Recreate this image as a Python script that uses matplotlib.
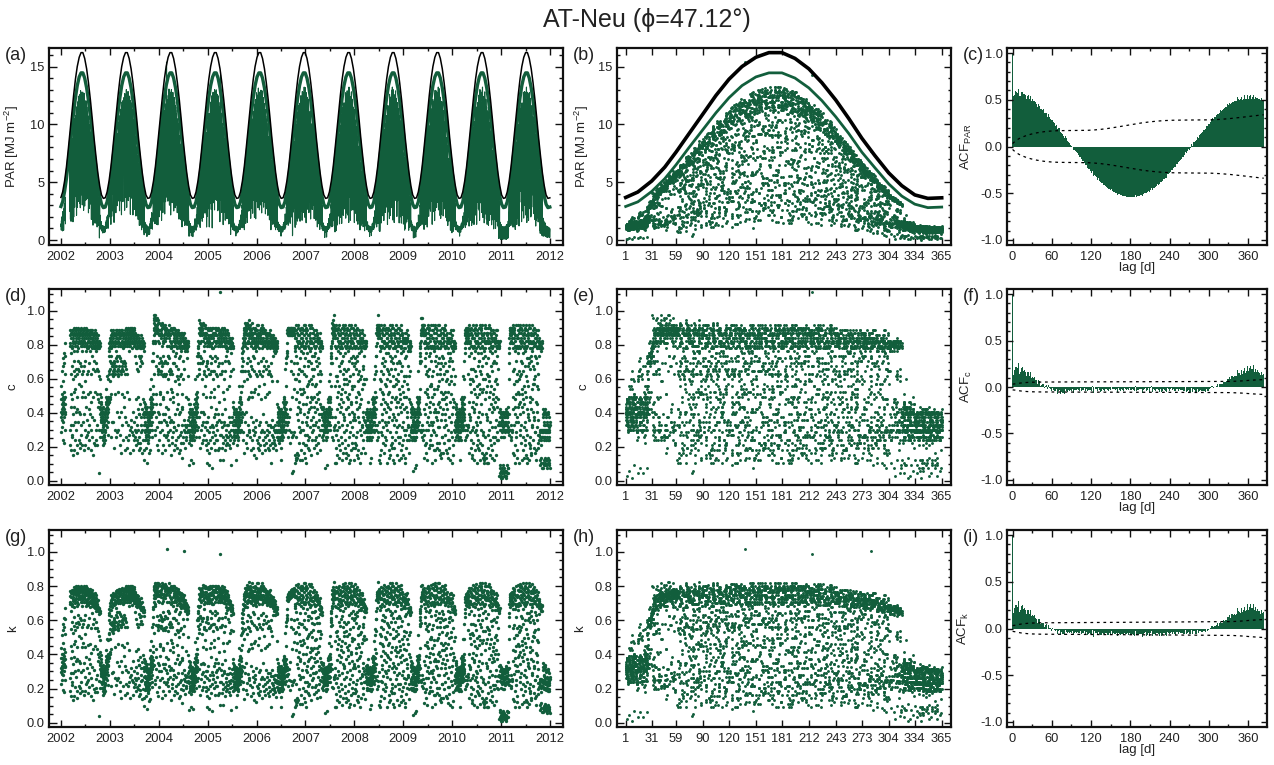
import sys
import numpy as np
import matplotlib
matplotlib.use("Agg")
import matplotlib.pyplot as plt
from matplotlib.ticker import MultipleLocator, FixedLocator, NullLocator

# ---------------- data ----------------
# clear-sky curves (top-of-atmosphere = black, clear-sky = green), MJ m-2, by day of year
CURVE_DOY = [1, 15, 31, 46, 59, 74, 90, 105, 120, 135, 151, 166, 181, 196, 212, 227,
             243, 258, 273, 288, 304, 319, 334, 349, 365]
PAR_TOA = [3.68, 4.15, 5.1, 6.3, 7.6, 9.2, 10.9, 12.5, 13.9, 15.0, 15.8, 16.2, 16.2, 15.7,
           14.8, 13.6, 12.1, 10.5, 8.8, 7.3, 5.8, 4.7, 3.9, 3.6, 3.65]
PAR_CLEAR = [2.9, 3.3, 4.2, 5.3, 6.5, 8.0, 9.55, 11.0, 12.3, 13.35, 14.1, 14.45, 14.45, 14.0,
             13.15, 12.05, 10.65, 9.2, 7.6, 6.25, 4.85, 3.8, 3.1, 2.8, 2.85]

# daily clearness c, one string per month; value = index in ALPH * 0.015 ('.' = missing)
ALPH = "0123456789abcdefghijklmnopqrstuvwxyzABCDEFGHIJKLMNOPQRSTUVWXYZ+*#@%&!~^<>?=$:;|"
STEP = 0.015
MONTH_LEN = [31, 28, 31, 30, 31, 30, 31, 31, 30, 31, 30, 31]

c_2002 = ["rwpjB uoHsl ywqgD tMnrv Jxfpu KswOz r", "NuGqS xk... ..... ..... ..... ...",
          "..... ..... ....S VkRXe OtWGc UmyiQ W", "XRhJw TVqEa XUSmH cLWYz PtRgX VAnSF",
          "WTkIr XYUbG sRVPx eWXLQ nIUSY gCVWr T", "UHfXV SqKdW YTBmR XJiUS xGVWe PRzXT",
          "VWnHS cXUJq TYRxe LVSWk DUXhP RYtWQ i", "SXVGo WRjUT yHQXd sVWKm TRgXU zPSqW V",
          "RUkGX WvcTQ NSXhU WpRVI aTUxS WQfLR", "TVoHR XeSUz QWkKT VgPRS yUmQe TRIwV S",
          "QHRtS vSFRk TQ3RS qyhsE tovnp krxuo", "pkrhn qjsme olrgp tkoif nqhmr pjkgo s"]
c_2003 = ["qvsmx osAru lwtpF wqvnE usiwr xHvNQ P", "SGvRT LwIUx DKVSh QyUXN JnTVW GRK",
          "XHFSJ UnGVL RIdWH KTSyG VRJkX UPhSW M", "VJrXH LUSjN WIzTR GFkVX pJSWN UeHRV",
          "WMiSU HXrRL VGbTW JyXSI mQVKg WRHUx S", "RLWtS VJcXU GpTRK WhSVI nYUGd RWzTS",
          "XVUmS YWgTR XUwPS WiVYT kXRUb SWVoY X", "WUlXV SjYTW QrUXc VSWiT YnRXU gSWkV T",
          "RVhNS UjeTQ KwpSV ImRgU QxsTH kfRVq", "SNqTR hcUQM udRSJ fVmTN pjQLb sRUkK S",
          "RQgSR wSqTP RcSr8 pvmtj rgkqn uisdm", "mhqkg tp7ri lmfqj kigon rkbpm hjqoc k"]
c_2004 = ["tpwnr AmqvE suxpk Lrnwt qhyuB rLSTO @", "#XrV* Y+GkW @ZTiS #ypXY *JuZ# NeW",
          "YXlZ+ TGcWH *rIVn XqSgK +MuXj zVHyW L", "XZnUG HbYKR +kVJx ZFeTw SqNoV KYGiU",
          "YWcLX FqZTh XGnWt UY:mV KiRzK sWEgN N", "XVjMW RZpUH eXnIw VkGTA aQXoS HYhRz",
          "WRfXG PnTYx vWjKU cRVKl YlSXq DWeTN V", "UXkRJ OgWTs yVFdU QmWEI uSXhM WbTqR C",
          "VSiQF NrUcT GjRVf PWsmU y9QtR WhTLE", "RUfVS oQkTI |WdRS mUjPR hTxSQ gRlMT j",
          "PSRmT QwRTk SoFRj fmu6r kpisg nhkuq", "khnqe rm8ok hpjsl gqni7 krmhp oljgq m"]
c_2005 = ["uoqlw rEtkn yspvh mwqFr pkuxN tzONK Q", "RNlTG WIpSY *hVXK +SdWN YrXMk ZTY",
          "WYmZE KfXVr +nLWy TgHRU iZGPq YSlBV W", "VZgJx UnYFe W7kTK RLncY VpUSI XfGRj",
          "XTb6U GVlNx SgYHU tKXRd VzmQM Yh5SV E", "UWjYH lQxfT WHpVA cYRLq WNiXs VmGgT",
          "YSkVF gXTMn UBcXR JqYvd WSoTK UiRV8 G", "VXW=T iWUGn XSdYH lRVKq zhTWf 8UXmE Y",
          "TUnRw gLVsX ScHWi TReUN QkXfA TmPWh", "SVhQT mLWjB eUTpS KgQFi RnTUd 6OSkH R",
          "QTpRS ShRnU QfIRk tmvjq siogr mkqhn", "ojqmh kr8np mhsqj eokmr ilqgn hpjkm o"]
c_2006 = ["prmvk tBwon sqxjq Hnuqk ozvpr HBOJM Q", "SLgUH PRjWT TDqYX bVSH+ WnUYR XfZ",
          "WYXZr KSiEV +QdwY SZHmM TYjVx *WkGU Z", "XVFhY SLzcW UXpRJ +WIgS TVxnd QWNUk",
          "YWSHi TMUza WRjXQ AYlS9 UGXoT PZVgR F", "VXRfy TWdUK ZSHmV QhWBc TXVnG UeWSL",
          "XYUjw SXbTQ FZWkR HgUMq YSWeC TXRjJ W", "TWSxh XRcUL WVnTf ISQiW URkyJ VTdmG S",
          "RVTgz WjSHc XRGmV UQeSl F7TRK VDfUo", "SURiT QdVlS NThRf UPkSg RQmUe TOjSc R",
          "QSRPk RSuhT QjDRn rkpgt mqhor kfsnj", "nkrhp jqmgs okd8r lhpjq mgkri nqhko l"]
c_2007 = ["ovrkt qxmpu wsnjv rIpuk vqBsn MKNOP S", "pmWXq YWnXV hWYXk WXVpY WsXYV XfW",
          "XWVYL jWYHV WXhYW Vx34W YXGWi XYKVX W", "jAVER UPa7X QZU89 EwXhN RqbKW Tz9oY",
          "VGtaS ZIQlv DfVTX MsS8A rjWRP YcyHU k", "yWSU8 HYnAf ORXku TGbzV QZJqe MXi9R",
          "QZnuS Fe7WY UmxBi XOpTR gJdVL CrZQL c", "sDVhT WvPlU SYZaK xEQot TCjNY SgwIW m",
          "WSpFU kxNUR XdtIm TBgVQ OrvTe LnXRC", "hVTWs JUbyM lSUwf TGozQ TUKiq DScuW H",
          "PRkSS qRtGT ksRpQ mhtqk oitgs kmrpj", "mqjnk ro5lp kqjnh rmgpk ls6ok jrmhq n"]
c_2008 = ["snwqk vpmxr Dtnsq wkpvG rmxqB sNKOM R", "QTKhS WpY+U gXW*Z VXkY@ WZlXV mYX",
          "V7pBR UdXFM i7QZU DsXkF xaRWg TPnzY J", "VSeuZ Bl9QV THcrO XwhSW KtyRA 8fYUL",
          "mQZSG qWvbN jYUEo XCpIT RVdzg OZk9Q E", "sbWHS UxmCY RXTaI teVwP Qq7LZ XhyDR",
          "VnFjT W8UvM cuSYZ BrQKl fATYo SGdiW N", "VRpJU Bq8XQ ZKfoM UdxXR hIeWv LaTYN s",
          "jVSTD 9QpGc zVTOn XtHyS WR7uE kUiFU", "bwQPT SmAlW UUXJr CgTdI RpCoV TEjNQ b",
          "RQjSR TnSrE RkTmq gsojr lphvm qkrjo", "lpjqg mrkhp 7sjnl qhmro kgpjl 9qmhk p"]
c_2009 = ["qwmsv krpun xsqjE tnrwk mpJsv Gqzxs N", "RNWkH SgYXZ mVWYU XZh@W jYXVZ nWY",
          "8VRU7 aXPEA jQZHu UcDqX RWiKz oTGfY w", "lMVyS ZbJsQ VTXhC nLSev WrOgR YBmIU",
          "WSkEU u7yYR XHtnO TzcVQ Gp9ZD jsXRN a", "LVTWv eUIhx dSYMo ZfK8Q TYqBF dSBpW",
          "7mVIR UwgNX QZUjC toXEx RKalW TPvhY D", "WvqGS UmYLf 8ARXT ytVKh wOQZr XcH9R l",
          "VTBuW eJzUS UnPga TxFQT ksDU7 iMSW9", "QtdNT SxWkF pgUUX CrTJl AmRVP TwbFQ i",
          "QRgSR PSTvH QjRsr lpuhk tmqgr jmsko", "kqhnj 4rmgp lshk5 qjnrg mpkh6 jqlmr h"]
c_2010 = ["rvnqx lsowk upmtr Hxqnv srwkA qKNLO R", "SQjLT #VXkW ZYX#h WmXZV YWXgZ kVW",
          "Vs9iS ZMQeq JzVTX bGSuk OfWRA YnH8U y", "pQZSF kWxNd tYUIm XBgOT RVrve LZnCQ",
          "ViBxR UmX7e FuQZU nkXHy cPRWj TrA8Y s", "QZcLS rJpWY UNidG XoATR flKVr BuZQc",
          "VSMfZ DvlQV TIatG Xo9SW zKbRq NhYUw E", "hsWJS UbyMY RXTlw fGVoz QKiqZ XDcuR H",
          "mxVHT WbsEU SUT9k OgQzC TLdJU SgpOW", "MWSUv 8UjFn DRXyh TL7qV QTPwe tXIaR C",
          "QSkRS vTRmF QjSnR gkuos lqhtm kirnp", "mqkgo hrnjp lsgqk mhoj8 rkpmh qjlgn o"]
c_2011 = ["sqwmu pkvrn xtolq Fmswr kpuqx oEsLO Q", "SkVXg WTmYX VhWUX kSYWi XVTWl YXU",
          "mGVqS ZvbNQ VTXjE oCSpI WdzgR YOk9U E", "VRtaU IlvXQ ZDfMs U8AXR rjPWc yHTYk",
          "nVSZu FQe7m xVTBi XOpgS WRJdL CYrLU c", "y8QHZ SnAfW YUXOk uGTbz RJqeV ZMi9Q",
          "VjAET WPUa7 89SYZ EwQhN qbTYK Sz9oW G", "VT7pW BdFUS YMi7D ZskQT FxaYg PnSWz J",
          "eVRUu BXl9H cQTrO UwhKX RWtyA 8TfLU", "WsDhS UvUPl aKRXT xEVot CjQTN XgwIR m",
          "RTgSR m2RQr SnT5p k3sm6 q1kn2 rh4mo", "k3pm5 j1qn4 hr6kl 2pm3q kh5nr 2jm4p k"]
c_2012 = ["m2rk4 qn1sp 6mkq3 rp5nj 3qtl5 kEqKO Q", "UiYWX VkXSY WXTgm YVhXW UXYjS WkX",
          "QsbHZ SxWmC aIYUX teTwP q7RVL ZhyDQ n", "jDV9R UpGcX QZUzO ntXHy R7uEW TkiFY",
          "QZvqS GmLWY Uf8Ay XtKTR hwOVr cHZQ9 l", "BWSUu eYJzn PRXga TxFkV QZsD7 iXM9R",
          "pVTWJ BUq8K fSYoM ZdxhQ TYIev LSaNW s", "VbwPS ZmQAl JrVTX CgSdI pCWRo YEjNU b",
          "WSFjU 8vMUR XcuBr TKlVQ fAoTG diXRN", "RSiQU gTk8R hQ6Sj eP9Rk gQ7hS jk5QT h",
          "kq7hs 5pjm8 rkg6n qh7ks j9rmh 6kqg8", "jp6mk 8hqj5 nkr7g 9mjq6 lh8kp 7jgm5 n"]

C_YEARS = [c_2002, c_2003, c_2004, c_2005, c_2006, c_2007, c_2008, c_2009, c_2010, c_2011, c_2012]
YEAR_LABELS = ["2002", "2003", "2004", "2005", "2006", "2007", "2008", "2009", "2010", "2011", "2012"]
DOY_TICKS = [1, 31, 59, 90, 120, 151, 181, 212, 243, 273, 304, 334, 365]
TITLE = "AT-Neu (\u03d5=47.12\u00b0)"

GREEN = "#125e3c"
TXT = "#222222"
TICK_FS = 9.3
LABEL_FS = 9.5


def decode_year(months):
    vals = np.full(365, np.nan)
    start = 0
    for mi, (mstr, ml) in enumerate(zip(months, MONTH_LEN)):
        s = mstr.replace(" ", "")
        if len(s) != ml:
            print("length mismatch", mi, len(s), ml, file=sys.stderr)
        s = s[:ml]
        for i, ch in enumerate(s):
            if ch != '.':
                vals[start + i] = ALPH.index(ch) * STEP
        start += ml
    return vals


doy = np.arange(1, 366)
c_all = np.concatenate([decode_year(m) for m in C_YEARS])
nyears = len(C_YEARS)
doy_all = np.tile(doy, nyears)
clear_day = np.interp(doy_all, CURVE_DOY, PAR_CLEAR)
toa_day = np.interp(doy_all, CURVE_DOY, PAR_TOA)
par_all = c_all * clear_day
k_all = par_all / toa_day
N = len(c_all)
t_all = np.arange(N)

# curves repeated for each year in the time-series panel
curve_t = np.concatenate([y * 365 + np.array(CURVE_DOY) - 1 for y in range(nyears)])
toa_t = np.tile(PAR_TOA, nyears)
clear_t = np.tile(PAR_CLEAR, nyears)


def acf(x, maxlag):
    m = np.nanmean(x)
    d = np.where(np.isnan(x), 0.0, x - m)
    n = len(d)
    den = np.sum(d * d)
    r = np.array([np.sum(d[:n - kk] * d[kk:]) / den for kk in range(maxlag + 1)])
    cs = np.concatenate([[0.0], np.cumsum(r[1:] ** 2)])[:maxlag + 1]
    se = np.sqrt((1.0 + 2.0 * cs) / n)
    return r, 1.96 * se


MAXLAG = 384
lags = np.arange(MAXLAG + 1)

# ---------------- figure ----------------
plt.rcParams['font.family'] = ['Liberation Sans', 'DejaVu Sans']
plt.rcParams['mathtext.fontset'] = 'custom'
plt.rcParams['mathtext.rm'] = 'Liberation Sans'
plt.rcParams['mathtext.it'] = 'Liberation Sans:italic'
plt.rcParams['axes.unicode_minus'] = False

W, H = 1274, 765
fig = plt.figure(figsize=(W / 100, H / 100), dpi=100)

cols = [(49, 563), (617, 951), (1007, 1267)]
rows = [(48, 245), (289, 485), (530, 727)]


def make_ax(r, c):
    l, rr = cols[c]
    t, b = rows[r]
    return fig.add_axes([l / W, 1 - b / H, (rr - l) / W, (b - t) / H])


def style(ax, ylen=5):
    for s in ax.spines.values():
        s.set_linewidth(1.6)
        s.set_color('#111111')
    ax.tick_params(which='both', direction='in', top=True, right=True, colors='#111111',
                   labelcolor=TXT, labelsize=TICK_FS, width=1.0)
    ax.tick_params(axis='x', which='major', length=5, pad=4.5)
    ax.tick_params(axis='x', which='minor', length=2.5)
    ax.tick_params(axis='y', which='major', length=ylen, pad=3)
    ax.tick_params(axis='y', which='minor', length=ylen / 2)


def panel_label(r, c, s):
    l, _ = cols[c]
    t, _ = rows[r]
    fig.text((l - 44) / W, 1 - (t - 1) / H, s, ha='left', va='top', fontsize=13, color=TXT)


def time_axis(ax):
    ax.set_xlim(-98, N + 107)
    ax.xaxis.set_major_locator(FixedLocator(np.linspace(0, N, 11)))
    ax.set_xticklabels(YEAR_LABELS)
    ax.xaxis.set_minor_locator(FixedLocator(np.linspace(0, N, 21)))


def doy_axis(ax):
    ax.set_xlim(-9, 375.7)
    ax.set_xticks(DOY_TICKS)
    ax.set_xticklabels([str(v) for v in DOY_TICKS])
    ax.xaxis.set_minor_locator(NullLocator())


def lag_axis(ax):
    ax.set_xlim(-8.6, 389)
    ax.set_xticks(np.arange(0, 361, 60))
    ax.xaxis.set_minor_locator(MultipleLocator(30))
    ax.set_ylim(-1.055, 1.055)
    ax.set_yticks([-1.0, -0.5, 0.0, 0.5, 1.0])
    ax.set_yticklabels(["-1.0", "-0.5", "0.0", "0.5", "1.0"])
    ax.yaxis.set_minor_locator(MultipleLocator(0.1))
    ax.set_xlabel("lag [d]", fontsize=LABEL_FS, color=TXT)
    ax.xaxis.set_label_coords(0.5, -0.085)


def par_yaxis(ax):
    ax.set_ylim(-0.43, 16.6)
    ax.set_yticks([0, 5, 10, 15])
    ax.yaxis.set_minor_locator(MultipleLocator(1))


def frac_yaxis(ax):
    ax.set_ylim(-0.025, 1.128)
    ax.set_yticks([0, 0.2, 0.4, 0.6, 0.8, 1.0])
    ax.set_yticklabels(["0.0", "0.2", "0.4", "0.6", "0.8", "1.0"])
    ax.yaxis.set_minor_locator(MultipleLocator(0.05))


def acf_panel(ax, series, ylab, lx):
    r, bound = acf(series, MAXLAG)
    ax.bar(lags, r, width=1.0, color=GREEN, linewidth=0)
    ax.plot(lags, bound, color='black', lw=0.9, dashes=(2.2, 3.0))
    ax.plot(lags, -bound, color='black', lw=0.9, dashes=(2.2, 3.0))
    lag_axis(ax)
    ax.set_ylabel(ylab, fontsize=LABEL_FS, color=TXT)
    ax.yaxis.set_label_coords(lx, 0.5)
    style(ax, 4.5)


# (a)
ax = make_ax(0, 0)
ax.plot(t_all, par_all, color=GREEN, lw=0.8)
ax.plot(curve_t, clear_t, color=GREEN, lw=2.4)
ax.plot(curve_t, toa_t, color='black', lw=1.1)
time_axis(ax)
par_yaxis(ax)
ax.set_ylabel("PAR [MJ m$^{-2}$]", fontsize=LABEL_FS, color=TXT)
ax.yaxis.set_label_coords(-0.054, 0.5)
style(ax, 6)
panel_label(0, 0, "(a)")

# (b)
ax = make_ax(0, 1)
ax.plot(doy_all, par_all, 'o', ms=2.1, mew=0, color=GREEN)
ax.plot(CURVE_DOY, PAR_TOA, color='black', lw=2.6)
ax.plot(CURVE_DOY, PAR_CLEAR, color=GREEN, lw=2.0)
doy_axis(ax)
par_yaxis(ax)
ax.set_ylabel("PAR [MJ m$^{-2}$]", fontsize=LABEL_FS, color=TXT)
ax.yaxis.set_label_coords(-0.078, 0.5)
style(ax, 5)
panel_label(0, 1, "(b)")

# (c)
ax = make_ax(0, 2)
acf_panel(ax, par_all, "ACF$_{\\mathrm{PAR}}$", -0.127)
panel_label(0, 2, "(c)")

# (d)
ax = make_ax(1, 0)
ax.plot(t_all, c_all, 'o', ms=2.4, mew=0, color=GREEN)
time_axis(ax)
frac_yaxis(ax)
ax.set_ylabel("c", fontsize=LABEL_FS, color=TXT)
ax.yaxis.set_label_coords(-0.06, 0.5)
style(ax, 6)
panel_label(1, 0, "(d)")

# (e)
ax = make_ax(1, 1)
ax.plot(doy_all, c_all, 'o', ms=2.1, mew=0, color=GREEN)
doy_axis(ax)
frac_yaxis(ax)
ax.set_ylabel("c", fontsize=LABEL_FS, color=TXT)
ax.yaxis.set_label_coords(-0.082, 0.5)
style(ax, 5)
panel_label(1, 1, "(e)")

# (f)
ax = make_ax(1, 2)
acf_panel(ax, c_all, "ACF$_{\\mathrm{c}}$", -0.127)
panel_label(1, 2, "(f)")

# (g)
ax = make_ax(2, 0)
ax.plot(t_all, k_all, 'o', ms=2.4, mew=0, color=GREEN)
time_axis(ax)
frac_yaxis(ax)
ax.set_ylabel("k", fontsize=LABEL_FS, color=TXT)
ax.yaxis.set_label_coords(-0.058, 0.5)
style(ax, 6)
panel_label(2, 0, "(g)")

# (h)
ax = make_ax(2, 1)
ax.plot(doy_all, k_all, 'o', ms=2.1, mew=0, color=GREEN)
doy_axis(ax)
frac_yaxis(ax)
ax.set_ylabel("k", fontsize=LABEL_FS, color=TXT)
ax.yaxis.set_label_coords(-0.093, 0.5)
style(ax, 5)
panel_label(2, 1, "(h)")

# (i)
ax = make_ax(2, 2)
acf_panel(ax, k_all, "ACF$_{\\mathrm{k}}$", -0.138)
panel_label(2, 2, "(i)")

fig.text(647 / W, 1 - 20 / H, TITLE, ha='center', va='center', fontsize=18, color=TXT,
         family=['Liberation Sans', 'DejaVu Sans'])

fig.savefig("out.png", dpi=100)
